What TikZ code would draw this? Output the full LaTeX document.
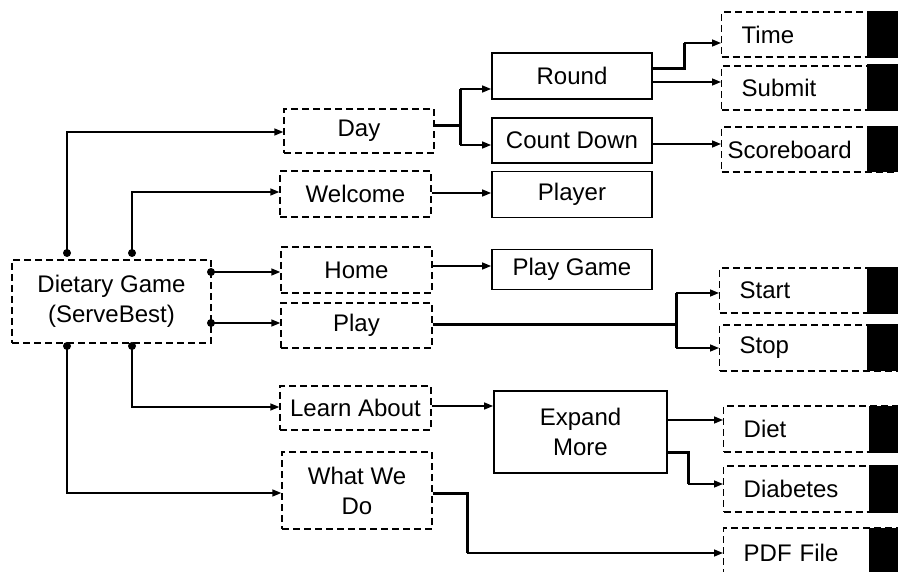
\documentclass[tikz,border=0pt]{standalone}
\usepackage{fontspec}
\setmainfont{Liberation Sans}
\usetikzlibrary{arrows.meta,calc}
\tikzset{
 base/.style={font=\fontsize{24}{30}\selectfont, inner sep=0pt, align=center},
 dbox/.style={base, draw, dash pattern=on 7pt off 4pt, line width=1.4pt},
 sbox/.style={base, draw, line width=1.8pt},
 rbox/.style={base, draw, dash pattern=on 7pt off 4pt, line width=1.4pt, align=left, anchor=west, inner xsep=20pt, inner ysep=0pt, text width=140pt},
 ln/.style={line width=1.5pt},
 thk/.style={line width=3pt},
 arr/.style={ln, -{Triangle[length=9pt,width=7pt]}},
 dot/.style={circle, fill, inner sep=0pt, minimum size=8pt},
 blk/.style={fill=black},
}
\begin{document}
\begin{tikzpicture}[x=1pt,y=-1pt]
\useasboundingbox (0,0) rectangle (898,572);
\clip (0,0) rectangle (898,572);
% left column
\node[dbox, minimum width=199pt, minimum height=83pt] (dg) at (111.5,301.5) {Dietary Game\\(ServeBest)};
\node[dbox, minimum width=150pt, minimum height=44pt] (day) at (359,131) {Day};
\node[dbox, minimum width=151pt, minimum height=46pt] (welcome) at (355.5,194) {Welcome};
\node[dbox, minimum width=151pt, minimum height=46pt] (home) at (356.5,270) {Home};
\node[dbox, minimum width=151pt, minimum height=45pt] (play) at (356.5,325.5) {Play};
\node[dbox, minimum width=151pt, minimum height=44pt] (learn) at (355.5,408) {Learn About};
\node[dbox, minimum width=150pt, minimum height=77pt] (what) at (357,490.5) {What We\\Do};
% middle column
\node[sbox, minimum width=160pt, minimum height=46pt] (round) at (572,76) {Round};
\node[sbox, minimum width=160pt, minimum height=45pt] (count) at (572,140.5) {Count Down};
\node[sbox, minimum width=160pt, minimum height=46pt] (player) at (572,194.5) {Player};
\node[sbox, minimum width=160pt, minimum height=40pt] (playgame) at (572,269.5) {Play Game};
\node[sbox, minimum width=173pt, minimum height=82pt] (expand) at (580.5,432) {Expand\\More};
% right column
\node[rbox, minimum height=45pt] (time) at (721,34.5) {Time};
\node[rbox, minimum height=44pt] (submit) at (721,88) {Submit};
\node[rbox, minimum height=45pt, inner xsep=6pt, text width=168pt] (score) at (721,149.5) {Scoreboard};
\node[rbox, minimum height=45pt] (start) at (719,290.5) {Start};
\node[rbox, minimum height=46pt] (stop) at (719,348) {Stop};
\node[rbox, minimum height=46pt] (diet) at (723,429) {Diet};
\node[rbox, minimum height=46pt] (diabetes) at (723,489) {Diabetes};
\node[rbox, minimum height=50pt] (pdf) at (723,553) {PDF File};
% black blocks at right edge
\fill[blk] (867,11) rectangle (905,58);
\fill[blk] (867,64) rectangle (905,111);
\fill[blk] (867,126) rectangle (905,172);
\fill[blk] (867,267) rectangle (905,314);
\fill[blk] (867,324) rectangle (905,371);
\fill[blk] (869,406) rectangle (905,453);
\fill[blk] (869,465) rectangle (905,513);
\fill[blk] (869,528) rectangle (905,580);
% dots on Dietary Game
\node[dot] (p1) at (67,253) {};
\node[dot] (p2) at (132,253) {};
\node[dot] (p3) at (211,272) {};
\node[dot] (p4) at (211,323) {};
\node[dot] (p5) at (132,346) {};
\node[dot] (p6) at (67,346) {};
\draw[arr] (p1.center) |- (day.west |- 0,132);
\draw[arr] (p2.center) |- (welcome.west |- 0,192);
\draw[arr] (p3.center) -- (p3 -| home.west);
\draw[arr] (p4.center) -- (p4 -| play.west);
\draw[arr] (p5.center) |- (learn.west |- 0,407);
\draw[arr] (p6.center) |- (what.west |- 0,493);
% Day -> Round / Count Down
\coordinate (ja) at (460,89);
\coordinate (jb) at (460,145);
\draw[thk] (day.east |- 0,126) -- (460,126);
\draw[thk] (ja) -- (jb);
\draw[arr] (ja) -- (ja -| round.west);
\draw[arr] (jb) -- (jb -| count.west);
% Round -> Time / Submit
\coordinate (jt) at (684,43);
\draw[thk] (round.east |- 0,69) -| (jt);
\draw[arr] (jt) -- (jt -| time.west);
\draw[arr] (round.east |- 0,82) -- (submit.west |- 0,82);
\draw[arr] (count.east |- 0,144) -- (score.west |- 0,144);
% Welcome -> Player, Home -> Play Game
\draw[arr] (welcome.east |- 0,193) -- (player.west |- 0,193);
\draw[arr] (home.east |- 0,266) -- (playgame.west |- 0,266);
% Play -> Start / Stop
\coordinate (js) at (676,293);
\coordinate (jp) at (676,348);
\draw[thk] (play.east |- 0,325) -- (676,325);
\draw[thk] (js) -- (jp);
\draw[arr] (js) -- (js -| start.west);
\draw[arr] (jp) -- (jp -| stop.west);
% Learn About -> Expand More
\draw[arr] (learn.east |- 0,406) -- (expand.west |- 0,406);
\draw[arr] (expand.east |- 0,420) -- (diet.west |- 0,420);
\coordinate (jd) at (688,484);
\draw[thk] (expand.east |- 0,452) -| (jd);
\draw[arr] (jd) -- (jd -| diabetes.west);
% What We Do -> PDF File
\coordinate (jw) at (467,553);
\draw[thk] (what.east |- 0,493) -| (jw);
\draw[arr] (jw) -- (jw -| pdf.west);
\end{tikzpicture}
\end{document}
